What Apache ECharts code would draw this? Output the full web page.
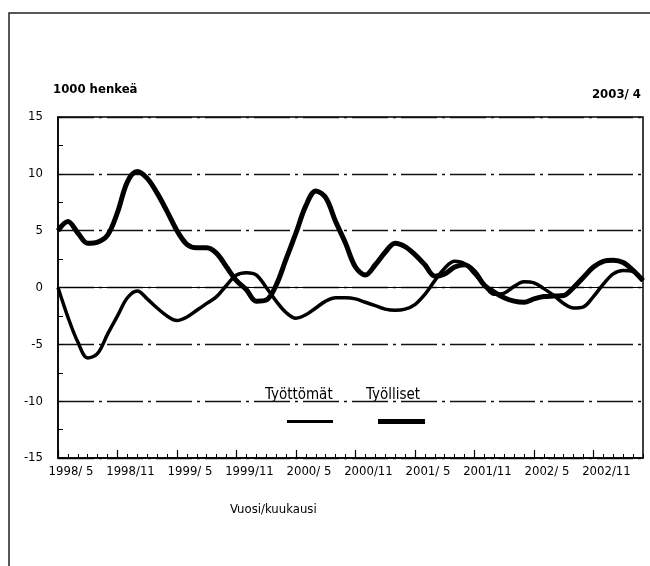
<!DOCTYPE html>
<html><head><meta charset="utf-8">
<script src="https://cdn.jsdelivr.net/npm/echarts@6/dist/echarts.min.js"></script>
<style>html,body{margin:0;padding:0;background:#fff}#c{width:650px;height:566px}</style>
</head><body><div id="c"></div>
<script>
var months = ["1998/ 5","1998/ 6","1998/ 7","1998/ 8","1998/ 9","1998/10","1998/11","1998/12",
"1999/ 1","1999/ 2","1999/ 3","1999/ 4","1999/ 5","1999/ 6","1999/ 7","1999/ 8","1999/ 9","1999/10","1999/11","1999/12",
"2000/ 1","2000/ 2","2000/ 3","2000/ 4","2000/ 5","2000/ 6","2000/ 7","2000/ 8","2000/ 9","2000/10","2000/11","2000/12",
"2001/ 1","2001/ 2","2001/ 3","2001/ 4","2001/ 5","2001/ 6","2001/ 7","2001/ 8","2001/ 9","2001/10","2001/11","2001/12",
"2002/ 1","2002/ 2","2002/ 3","2002/ 4","2002/ 5","2002/ 6","2002/ 7","2002/ 8","2002/ 9","2002/10","2002/11","2002/12",
"2003/ 1","2003/ 2","2003/ 3","2003/ 4"];
var tyottomat = [0,-2.6,-4.8,-6.2,-5.8,-4.1,-2.5,-0.9,-0.3,-1.0,-1.8,-2.5,-2.9,-2.6,-2.0,-1.4,-0.8,0.2,1.1,1.3,
1.1,0.0,-1.2,-2.2,-2.7,-2.4,-1.8,-1.2,-0.9,-0.9,-1.0,-1.3,-1.6,-1.9,-2.0,-1.9,-1.5,-0.6,0.6,1.7,
2.3,2.1,1.2,0.2,-0.6,-0.5,0.1,0.5,0.4,-0.1,-0.7,-1.4,-1.8,-1.7,-0.8,0.3,1.2,1.5,1.4,0.6];
var tyolliset = [5.0,5.8,4.8,3.9,4.0,4.6,6.6,9.3,10.2,9.6,8.3,6.7,5.0,3.8,3.5,3.5,3.0,1.8,0.6,-0.2,
-1.2,-1.1,0.2,2.5,4.8,7.2,8.5,7.9,5.8,3.9,1.8,1.1,2.0,3.1,3.9,3.6,2.9,2.0,1.0,1.2,
1.8,2.0,1.4,0.2,-0.4,-0.9,-1.2,-1.3,-1.0,-0.8,-0.75,-0.7,0.0,0.9,1.8,2.3,2.4,2.2,1.5,0.6];
var yTicks = {min:-15, max:15, step:5};
var font = "'Liberation Sans Narrow','DejaVu Sans Condensed','Arial Narrow','Liberation Sans',sans-serif";

var chart = echarts.init(document.getElementById('c'), null, {renderer:'canvas'});
chart.setOption({
  animation:false,
  backgroundColor:'#fff',
  textStyle:{fontFamily:font},
  grid:{left:58,right:7,top:117,bottom:108,show:true,borderColor:'#000',borderWidth:1.5,backgroundColor:'transparent'},
  legend:[
    {data:['Työttömät'],left:287,top:420,itemWidth:46,itemHeight:3,icon:'rect',formatter:function(){return '';},itemGap:0,padding:0},
    {data:['Työlliset'],left:378,top:419,itemWidth:47,itemHeight:5,icon:'rect',formatter:function(){return '';},itemGap:0,padding:0}
  ],
  xAxis:[
    {type:'category',data:months,boundaryGap:false,position:'bottom',
     axisLine:{onZero:false,lineStyle:{color:'#000',width:1.5}},
     axisTick:{inside:true,length:4,interval:0,lineStyle:{color:'#000',width:1}},
     axisLabel:{show:false},splitLine:{show:false}},
    {type:'category',data:months,boundaryGap:false,position:'bottom',
     axisLine:{show:false,onZero:false},
     axisTick:{inside:true,length:8,interval:function(i){return i%6===0;},lineStyle:{color:'#000',width:1.2}},
     axisLabel:{interval:function(i){return i%6===0;},color:'#000',fontSize:13,fontFamily:font,margin:7,padding:[0,0,0,26]},
     splitLine:{show:false}}
  ],
  yAxis:{type:'value',min:yTicks.min,max:yTicks.max,interval:yTicks.step,
    axisLine:{show:true,lineStyle:{color:'#000',width:1.5}},
    axisTick:{show:true,inside:true,length:5,lineStyle:{color:'#000'}},
    minorTick:{show:true,splitNumber:2,length:5,lineStyle:{color:'#000'}},
    axisLabel:{color:'#000',fontSize:13,fontFamily:font,margin:15},
    splitLine:{show:true,lineStyle:{color:'#111',width:1.3,type:[36,5,3,5]}}
  },
  series:[
    {name:'Työttömät',type:'line',data:tyottomat,xAxisIndex:0,showSymbol:false,smooth:0.35,
     lineStyle:{color:'#000',width:3.5},itemStyle:{color:'#000'},
     markLine:{silent:true,symbol:'none',label:{show:false},lineStyle:{color:'#000',width:1.2,type:'solid'},data:[{yAxis:0}]}},
    {name:'Työlliset',type:'line',data:tyolliset,xAxisIndex:0,showSymbol:false,smooth:0.35,
     lineStyle:{color:'#000',width:5},itemStyle:{color:'#000'}}
  ],
  graphic:[
    {type:'polyline',shape:{points:[[9,566],[9,13],[650,13]]},style:{stroke:'#222',lineWidth:1.5,fill:null}},
    {type:'text',left:53,top:83,style:{text:'1000 henkeä',font:'bold 13px '+font,fill:'#000'}},
    {type:'text',right:9,top:88,style:{text:'2003/ 4',font:'bold 13px '+font,fill:'#000'}},
    {type:'text',left:230,top:503,style:{text:'Vuosi/kuukausi',font:'13px '+font,fill:'#000'}},
    {type:'text',left:265,top:388,style:{text:'Työttömät',font:'15px '+font,fill:'#000'}},
    {type:'text',left:366,top:388,style:{text:'Työlliset',font:'15px '+font,fill:'#000'}}
  ]
});
</script></body></html>
